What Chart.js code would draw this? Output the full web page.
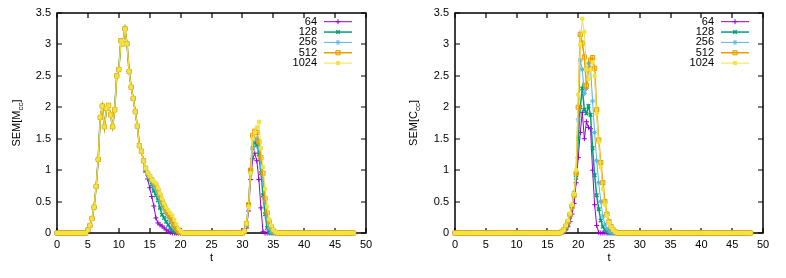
<!DOCTYPE html>
<html>
<head>
<meta charset="utf-8">
<script src="https://cdn.jsdelivr.net/npm/chart.js@4.4.0/dist/chart.umd.min.js"></script>
<style>
    html, body { margin: 0; padding: 0; background: #fff; }
    #wrap { position: relative; width: 786px; height: 278px; }
    canvas { position: absolute; top: 0; }
    #chart-mcc { left: 0; }
    #chart-ccc { left: 393px; }
</style>
</head>
<body>
<div id="wrap">
    <canvas id="chart-mcc" width="393" height="278"></canvas>
    <canvas id="chart-ccc" width="393" height="278"></canvas>
</div>
<script>
// sampling of the runs: one value every 1/3 time unit, up to t = 48
const SAMPLE_STEP = 1 / 3;
const LAST_TIME = 48;

const seriesLabels = ['64', '128', '256', '512', '1024'];
const xTickValues = [0, 5, 10, 15, 20, 25, 30, 35, 40, 45, 50];
const yTickValues = [0, 0.5, 1, 1.5, 2, 2.5, 3, 3.5];

// SEM[Mcc]: first burst, identical for every N from t = 5 to t = 14
const mccRise = [0.05, 0.12, 0.23, 0.41, 0.74, 1.17, 1.84, 2.02, 1.69, 1.98,
    2.03, 1.88, 1.69, 1.96, 2.50, 2.60, 3.06, 3.01, 3.25, 3.01,
    2.57, 2.32, 2.14, 1.93, 1.70, 1.39, 1.30, 1.15];
// tails of the first burst, from t = 14.33
const mccTail64 = [0.97, 0.86, 0.72, 0.58, 0.43, 0.24, 0.16, 0.13, 0.11, 0.08, 0.05, 0.03, 0.01];
const mccTail128 = [1.00, 0.93, 0.85, 0.77, 0.67, 0.60, 0.52, 0.40, 0.29, 0.24, 0.18, 0.13, 0.08, 0.04, 0.02];
const mccTail256 = [1.02, 0.95, 0.88, 0.82, 0.75, 0.70, 0.60, 0.52, 0.45, 0.38, 0.31, 0.25, 0.18, 0.11, 0.07, 0.04, 0.01];
const mccTail512 = [1.03, 0.95, 0.90, 0.85, 0.80, 0.76, 0.68, 0.60, 0.50, 0.43, 0.36, 0.31, 0.26, 0.20, 0.13, 0.07, 0.03, 0.01];
const mccTail1024 = [1.03, 0.96, 0.91, 0.85, 0.82, 0.79, 0.72, 0.63, 0.55, 0.47, 0.41, 0.36, 0.32, 0.28, 0.21, 0.14, 0.07, 0.03];
// second burst, from t = 30
const mccLate64 = [0, 0.01, 0.08, 0.35, 0.85, 1.18, 1.27, 1.15, 0.85, 0.40, 0.02];
const mccLate128 = [0, 0.02, 0.12, 0.45, 1.00, 1.35, 1.45, 1.40, 1.25, 0.95, 0.60, 0.30, 0.08, 0.01];
const mccLate256 = [0, 0.02, 0.12, 0.42, 0.95, 1.35, 1.48, 1.50, 1.35, 1.05, 0.78, 0.48, 0.24, 0.07, 0.01];
const mccLate512 = [0, 0.03, 0.15, 0.45, 1.00, 1.55, 1.62, 1.60, 1.45, 1.20, 0.95, 0.55, 0.32, 0.18, 0.10, 0.04, 0.01];
const mccLate1024 = [0, 0.03, 0.15, 0.42, 0.95, 1.50, 1.60, 1.68, 1.77, 1.35, 1.05, 0.70, 0.42, 0.22, 0.12, 0.05, 0.02];

// SEM[Ccc]: single burst, from t = 17
const cccBurst64 = [0, 0.01, 0.02, 0.05, 0.10, 0.18, 0.30, 0.47, 0.80, 1.20, 1.60, 1.92, 1.50, 1.77, 1.68, 1.66,
    1.00, 0.45, 0.12, 0.01];
const cccBurst128 = [0, 0.01, 0.03, 0.07, 0.14, 0.26, 0.42, 0.63, 0.88, 1.50, 2.00, 2.30, 1.96, 1.90, 2.02, 1.88,
    1.35, 0.92, 0.60, 0.38, 0.20, 0.10, 0.05, 0.02];
const cccBurst256 = [0, 0.01, 0.04, 0.09, 0.17, 0.30, 0.45, 0.62, 0.95, 1.80, 2.75, 2.60, 2.22, 2.30, 2.70, 2.62,
    2.10, 1.60, 1.15, 0.80, 0.50, 0.27, 0.14, 0.07, 0.03, 0.01];
const cccBurst512 = [0, 0.02, 0.05, 0.11, 0.18, 0.29, 0.42, 0.60, 0.95, 2.00, 3.16, 3.02, 2.80, 2.35, 2.60, 2.75,
    2.79, 2.62, 1.96, 1.48, 1.12, 0.80, 0.50, 0.30, 0.18, 0.10, 0.05, 0.02];
const cccBurst1024 = [0, 0.02, 0.05, 0.12, 0.20, 0.31, 0.45, 0.62, 1.00, 2.20, 3.00, 3.41, 3.20, 2.60, 2.45, 2.60,
    2.72, 2.50, 1.90, 1.45, 1.05, 0.70, 0.45, 0.27, 0.16, 0.09, 0.05, 0.02];

const FONT_FAMILY = '"Liberation Sans", Arial, sans-serif';

const seriesStyles = [
    {color: '#9400d3', fill: '#9400d3', pointStyle: 'cross', radius: 2.5, lineWidth: 1, pointWidth: 1},
    {color: '#009e73', fill: '#009e73', pointStyle: 'crossRot', radius: 2.5, lineWidth: 1.5, pointWidth: 1.5},
    {color: '#56b4e9', fill: '#56b4e9', pointStyle: 'star', radius: 2.5, lineWidth: 1, pointWidth: 1},
    {color: '#e69f00', fill: 'rgba(230, 159, 0, 0.35)', pointStyle: 'rect', radius: 3, lineWidth: 1.5, pointWidth: 1},
    {color: '#f0e442', fill: '#f0e442', pointStyle: 'rect', radius: 2.2, lineWidth: 1, pointWidth: 1},
];

function buildSeries(segments) {
    const count = Math.round(LAST_TIME / SAMPLE_STEP);
    const values = new Array(count + 1).fill(0);

    segments.forEach(([startTime, list]) => {
        const offset = Math.round(startTime / SAMPLE_STEP);
        list.forEach((value, k) => {
            values[offset + k] = value;
        });
    });

    return values.map((value, i) => ({x: i * SAMPLE_STEP, y: value}));
}

function buildDatasets(seriesList) {
    return seriesList.map((points, index) => {
        const style = seriesStyles[index];

        return {
            label: seriesLabels[index],
            data: points,
            borderColor: style.color,
            borderWidth: style.lineWidth,
            pointStyle: style.pointStyle,
            pointRadius: style.radius,
            pointBorderColor: style.color,
            pointBackgroundColor: style.fill,
            pointBorderWidth: style.pointWidth,
            tension: 0,
            clip: false,
            order: seriesList.length - index,
        };
    });
}

// gnuplot-like frame with inward ticks on all four sides
const framePlugin = {
    id: 'plotFrame',
    beforeDatasetsDraw(chart) {
        const {ctx, chartArea} = chart;
        const xScale = chart.scales.x;
        const yScale = chart.scales.y;
        const left = Math.round(chartArea.left);
        const right = Math.round(chartArea.right);
        const top = Math.round(chartArea.top);
        const bottom = Math.round(chartArea.bottom);
        const tick = 5;

        ctx.save();
        ctx.strokeStyle = '#000000';
        ctx.lineWidth = 1.5;
        ctx.strokeRect(left, top, right - left, bottom - top);
        ctx.lineWidth = 1.2;
        ctx.beginPath();
        xTickValues.forEach((value) => {
            const px = Math.round(xScale.getPixelForValue(value));
            ctx.moveTo(px, bottom);
            ctx.lineTo(px, bottom - tick);
            ctx.moveTo(px, top);
            ctx.lineTo(px, top + tick);
        });
        yTickValues.forEach((value) => {
            const py = Math.round(yScale.getPixelForValue(value));
            ctx.moveTo(left, py);
            ctx.lineTo(left + tick, py);
            ctx.moveTo(right, py);
            ctx.lineTo(right - tick, py);
        });
        ctx.stroke();
        ctx.restore();
    },
};

// key in the top right corner: label, then a line sample with its marker
const keyPlugin = {
    id: 'key',
    afterDatasetsDraw(chart) {
        const {ctx, chartArea} = chart;
        const textRight = chartArea.right - 49;
        const lineStart = chartArea.right - 42;
        const lineEnd = chartArea.right - 14;

        ctx.save();
        ctx.font = `11px ${FONT_FAMILY}`;
        ctx.textAlign = 'right';
        ctx.textBaseline = 'middle';

        chart.data.datasets.forEach((dataset, index) => {
            const rowY = chartArea.top + 8.7 + index * 10.35;

            ctx.fillStyle = '#000';
            ctx.fillText(dataset.label, textRight, rowY);

            ctx.strokeStyle = dataset.borderColor;
            ctx.lineWidth = dataset.borderWidth;
            ctx.beginPath();
            ctx.moveTo(lineStart, rowY);
            ctx.lineTo(lineEnd, rowY);
            ctx.stroke();

            ctx.fillStyle = dataset.pointBackgroundColor;
            ctx.lineWidth = dataset.pointBorderWidth;
            Chart.helpers.drawPoint(ctx, {
                pointStyle: dataset.pointStyle,
                radius: dataset.pointRadius,
                borderWidth: dataset.pointBorderWidth,
                rotation: 0,
            }, (lineStart + lineEnd) / 2, rowY);
        });

        ctx.restore();
    },
};

// y title with a subscript, e.g. SEM[M_cc]
const yTitlePlugin = {
    id: 'yTitle',
    afterDraw(chart, args, options) {
        const {ctx, chartArea} = chart;
        const mainFont = `11px ${FONT_FAMILY}`;
        const subFont = `8px ${FONT_FAMILY}`;

        ctx.save();
        ctx.fillStyle = '#000';
        ctx.font = mainFont;
        const headWidth = ctx.measureText(options.head).width;
        const closeWidth = ctx.measureText(']').width;
        ctx.font = subFont;
        const subWidth = ctx.measureText(options.sub).width;
        const total = headWidth + subWidth + closeWidth;

        ctx.translate(options.baseline, (chartArea.top + chartArea.bottom) / 2);
        ctx.rotate(-Math.PI / 2);
        ctx.textAlign = 'left';
        ctx.textBaseline = 'alphabetic';

        let x = -total / 2;
        ctx.font = mainFont;
        ctx.fillText(options.head, x, 0);
        x += headWidth;
        ctx.font = subFont;
        ctx.fillText(options.sub, x, 3);
        x += subWidth;
        ctx.font = mainFont;
        ctx.fillText(']', x, 0);
        ctx.restore();
    },
};

function createChart(canvasId, seriesList, layout) {
    const font = {family: FONT_FAMILY, size: 11};

    return new Chart(document.getElementById(canvasId), {
        type: 'line',
        data: {datasets: buildDatasets(seriesList)},
        options: {
            responsive: false,
            animation: false,
            devicePixelRatio: 1,
            layout: {padding: {top: 13, right: layout.right, bottom: 0, left: 0}},
            scales: {
                x: {
                    type: 'linear',
                    min: 0,
                    max: 50,
                    afterBuildTicks: (scale) => {
                        scale.ticks = xTickValues.map((value) => ({value}));
                    },
                    afterFit: (scale) => {
                        scale.height = 45;
                    },
                    ticks: {font, color: '#000', padding: 5, autoSkip: false, maxRotation: 0, callback: (value) => String(value)},
                    grid: {display: false, drawTicks: false},
                    border: {display: false},
                    title: {display: true, text: 't', font, color: '#000', padding: {top: 0, bottom: 13}},
                },
                y: {
                    type: 'linear',
                    min: 0,
                    max: 3.5,
                    afterBuildTicks: (scale) => {
                        scale.ticks = yTickValues.map((value) => ({value}));
                    },
                    afterFit: (scale) => {
                        scale.width = layout.yWidth;
                    },
                    ticks: {font, color: '#000', padding: 6, callback: (value) => String(value)},
                    grid: {display: false, drawTicks: false},
                    border: {display: false},
                },
            },
            plugins: {
                legend: {display: false},
                tooltip: {enabled: false},
                yTitle: {head: layout.titleHead, sub: 'cc', baseline: layout.titleBaseline},
            },
        },
        plugins: [framePlugin, keyPlugin, yTitlePlugin],
    });
}

createChart('chart-mcc', [
    buildSeries([[5, mccRise], [14 + SAMPLE_STEP, mccTail64], [30, mccLate64]]),
    buildSeries([[5, mccRise], [14 + SAMPLE_STEP, mccTail128], [30, mccLate128]]),
    buildSeries([[5, mccRise], [14 + SAMPLE_STEP, mccTail256], [30, mccLate256]]),
    buildSeries([[5, mccRise], [14 + SAMPLE_STEP, mccTail512], [30, mccLate512]]),
    buildSeries([[5, mccRise], [14 + SAMPLE_STEP, mccTail1024], [30, mccLate1024]]),
], {right: 27, yWidth: 57, titleHead: 'SEM[M', titleBaseline: 20});

createChart('chart-ccc', [
    buildSeries([[17, cccBurst64]]),
    buildSeries([[17, cccBurst128]]),
    buildSeries([[17, cccBurst256]]),
    buildSeries([[17, cccBurst512]]),
    buildSeries([[17, cccBurst1024]]),
], {right: 23, yWidth: 62, titleHead: 'SEM[C', titleBaseline: 23.5});
</script>
</body>
</html>
